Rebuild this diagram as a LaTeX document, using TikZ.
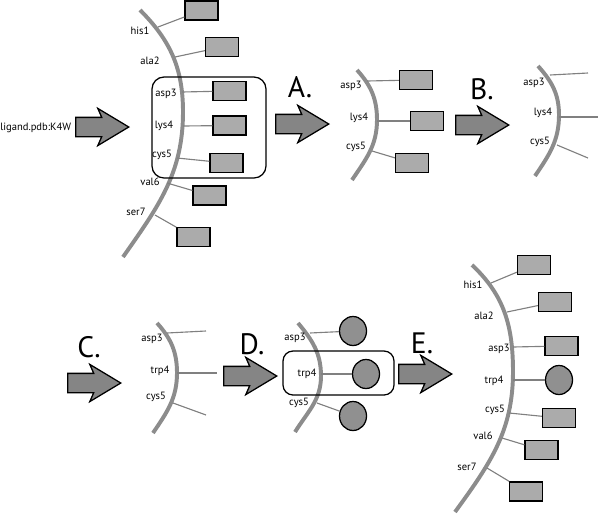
\documentclass[tikz,border=0pt]{standalone}
\usepackage{fontspec}
\setmainfont{PT Sans}
\usetikzlibrary{shapes.geometric,shapes.arrows}
\definecolor{bbgray}{HTML}{8C8C8C}
\definecolor{stickgray}{HTML}{808080}
\definecolor{boxgray}{HTML}{ABABAB}
\definecolor{ringgray}{HTML}{909090}
\definecolor{arrowgray}{HTML}{858585}
\tikzset{
  backbone/.style={line width=2.8pt, bbgray},
  stick/.style={line width=0.8pt, stickgray},
  res/.style={draw, line width=0.9pt, fill=boxgray, minimum width=0.825cm, minimum height=0.475cm, inner sep=0},
  ring/.style={ellipse, draw, line width=0.9pt, fill=ringgray, minimum width=0.675cm, minimum height=0.725cm, inner sep=0},
  lab/.style={font=\fontsize{7.5}{9}\selectfont, inner sep=0},
  stage/.style={font=\fontsize{21}{24}\selectfont, inner sep=0},
  fatarrow/.style={single arrow, draw, line width=0.9pt, fill=arrowgray, inner xsep=0, inner ysep=0.225cm,
    minimum height=1.325cm, minimum width=0.9cm, single arrow head extend=0.225cm,
    single arrow tip angle=62, single arrow head indent=0.1cm, anchor=tip},
  selbox/.style={line width=0.9pt, rounded corners=0.3cm}
}
\begin{document}
\begin{tikzpicture}[x=0.025cm,y=-0.025cm]
  \useasboundingbox (0,0) rectangle (600,515);

  % start: whole receptor
  \node[lab,anchor=west] (ligand) at (0,128) {ligand.pdb:K4W};
  \node[fatarrow] (arr0) at (130,127) {};
  \draw[backbone] (140,10) to[out=-45,in=90] (183,112) to[out=-90,in=55] (123,257);
  \foreach \n/\lx/\ly/\px/\py/\bx/\by in {his1/140/31/158/27/201.5/10.5, ala2/150/61/175/57/222/47,
      asp3/166/94/182/92/229.5/91, lys4/164/126/183/126/229.5/125.5, cys5/162/155/177/158/226.5/163,
      val6/150/182/167/183/209.5/195.5, ser7/136/212/155/215/193.5/237} {
    \node[lab] (s0-\n) at (\lx,\ly) {\n};
    \coordinate (a0-\n) at (\px,\py);
    \node[res] (r0-\n) at (\bx,\by) {};
    \draw[stick] (a0-\n) -- (r0-\n);
  };
  \draw[selbox] (152,77) rectangle (266,178);

  % A: cut out
  \node[stage] (stA) at (300,87) {A.};
  \node[fatarrow] (arrA) at (330,124) {};
  \draw[backbone] (357,70) to[out=-48,in=90] (377,120) to[out=-90,in=56] (352,180);
  \foreach \n/\lx/\ly/\px/\py/\bx/\by in {asp3/351/86/367/81/416/80, lys4/359/118/377/121/427/121,
      cys5/356/147/372/151/412/163} {
    \node[lab] (sA-\n) at (\lx,\ly) {\n};
    \coordinate (aA-\n) at (\px,\py);
    \node[res] (rA-\n) at (\bx,\by) {};
    \draw[stick] (aA-\n) -- (rA-\n);
  };

  % B: side chains stripped
  \node[stage] (stB) at (482,89) {B.};
  \node[fatarrow] (arrB) at (510,125) {};
  \draw[backbone] (538,66) to[out=-48,in=90] (559,115) to[out=-90,in=56] (535,176);
  \foreach \n/\lx/\ly/\px/\py/\ex/\ey in {asp3/534/83/550/75/588/73, lys4/543/113/559/117/598/117,
      cys5/540/142/557/145/588/158} {
    \node[lab] (sB-\n) at (\lx,\ly) {\n};
    \coordinate (aB-\n) at (\px,\py);
    \coordinate (eB-\n) at (\ex,\ey);
    \draw[stick] (aB-\n) -- (eB-\n);
  };

  % C: mutation
  \node[stage] (stC) at (89,347) {C.};
  \node[fatarrow] (arrC) at (122,383) {};
  \draw[backbone] (157,323) to[out=-48,in=90] (177,373) to[out=-90,in=56] (153,433);
  \foreach \n/\lx/\ly/\px/\py/\ex/\ey in {asp3/152/339/167/333/206/331, trp4/160/371/177/373/217/373,
      cys5/156/397/173/403/206/415} {
    \node[lab] (sC-\n) at (\lx,\ly) {\n};
    \coordinate (aC-\n) at (\px,\py);
    \coordinate (eC-\n) at (\ex,\ey);
    \draw[stick] (aC-\n) -- (eC-\n);
  };

  % D: rebuilt side chains
  \node[stage] (stD) at (252,344) {D.};
  \node[fatarrow] (arrD) at (278,376) {};
  \draw[backbone] (298,323) to[out=-50,in=90] (321,376) to[out=-90,in=58] (295,432);
  \foreach \n/\lx/\ly/\px/\py/\bx/\by in {asp3/295/338/310/333/353/331, trp4/307/374/321/374/366/374,
      cys5/299/403/317/403/353/416} {
    \node[lab] (sD-\n) at (\lx,\ly) {\n};
    \coordinate (aD-\n) at (\px,\py);
    \node[ring] (rD-\n) at (\bx,\by) {};
    \draw[stick] (aD-\n) -- (rD-\n);
  };
  \draw[selbox,rounded corners=0.25cm] (283,351) rectangle (394,395);

  % E: put back
  \node[stage] (stE) at (422,343) {E.};
  \node[fatarrow] (arrE) at (453,374) {};
  \draw[backbone] (472,265) to[out=-43,in=90] (513,372) to[out=-90,in=54] (455,512);
  \foreach \n/\lx/\ly/\px/\py/\bx/\by in {his1/473/285/491/283/534/265, ala2/484/316/507/312/555/302,
      asp3/499/349/513/347/561.5/346, cys5/495/410/509/413/559/418,
      val6/483/436/502/438/541.5/450, ser7/467/467/487/468/526/491.5} {
    \node[lab] (sE-\n) at (\lx,\ly) {\n};
    \coordinate (aE-\n) at (\px,\py);
    \node[res] (rE-\n) at (\bx,\by) {};
    \draw[stick] (aE-\n) -- (rE-\n);
  };
  \node[lab] (sE-trp4) at (494,381) {trp4};
  \coordinate (aE-trp4) at (513,380);
  \node[ring] (rE-trp4) at (559,380) {};
  \draw[stick] (aE-trp4) -- (rE-trp4);
\end{tikzpicture}
\end{document}
